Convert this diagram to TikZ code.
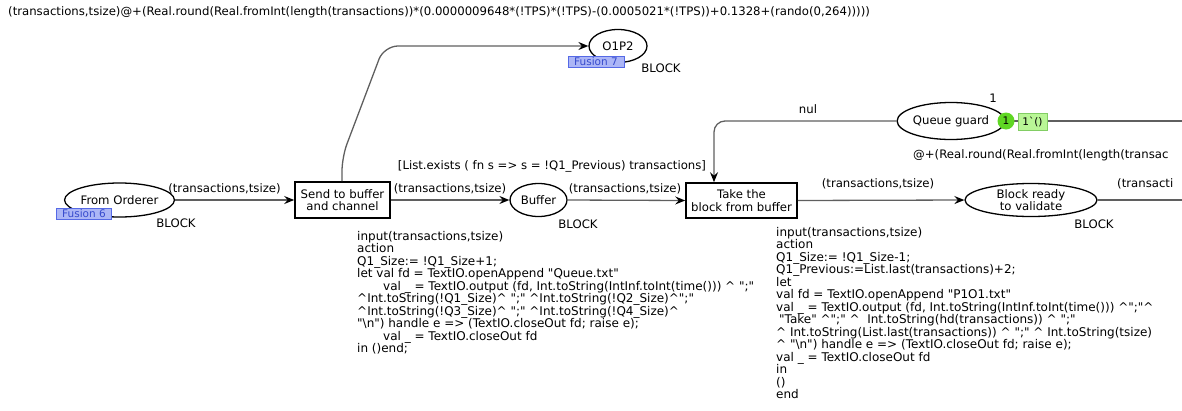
\documentclass[tikz,border=0pt]{standalone}
\usepackage{fontspec}
\newfontfamily\dv{DejaVu Sans}
\usetikzlibrary{shapes.geometric,arrows.meta}
\definecolor{arcgray}{RGB}{95,95,95}
\definecolor{fusfill}{RGB}{172,182,246}
\definecolor{fusdraw}{RGB}{85,105,230}
\definecolor{fustext}{RGB}{55,75,205}
\definecolor{tokgreen}{RGB}{95,215,35}
\definecolor{markfill}{RGB}{185,246,150}
\definecolor{markdraw}{RGB}{130,205,100}
\begin{document}
\begin{tikzpicture}[x=1pt,y=-1pt,
  lbl/.style={font=\dv\fontsize{11.7}{13}\selectfont, inner sep=0pt},
  place/.style={ellipse, draw=black, line width=1.3pt, inner sep=0pt, align=center, font=\dv\fontsize{11.7}{12.5}\selectfont},
  trans/.style={rectangle, draw=black, line width=1.6pt, inner sep=0pt, align=center, font=\dv\fontsize{11.7}{12.5}\selectfont},
  arcline/.style={draw=arcgray, line width=1.3pt},
  arc/.style={arcline, -{Stealth[length=10pt,width=8pt,inset=3.5pt,color=black]}},
  fusion/.style={rectangle, fill=fusfill, draw=fusdraw, line width=0.8pt, text=fustext, inner sep=0pt, font=\dv\fontsize{10.5}{11}\selectfont},
  code/.style={font=\dv\fontsize{12}{12.5}\selectfont, align=left, anchor=north west, inner sep=0pt}
]
\useasboundingbox (0,0) rectangle (1182,410);
\clip (0,0) rectangle (1182,410);

% top expression
\node[lbl, anchor=west] (top) at (8,12) {(transactions,tsize)@+(Real.round(Real.fromInt(length(transactions))*(0.0000009648*(!TPS)*(!TPS)-(0.0005021*(!TPS))+0.1328+(rando(0,264)))))};

% places and transitions
\node[place, minimum width=96pt, minimum height=34pt] (fo) at (119.5,200) {From Orderer};
\node[trans, minimum width=95pt, minimum height=36pt] (send) at (342.5,200) {Send to buffer\\and channel};
\node[place, minimum width=57pt, minimum height=33pt] (buf) at (538.5,200) {Buffer};
\node[trans, minimum width=111pt, minimum height=35pt] (take) at (741.5,200.5) {Take the\\block from buffer};
\node[place, minimum width=132pt, minimum height=33pt] (br) at (1031,200) {Block ready\\to validate};
\node[place, minimum width=58pt, minimum height=33pt] (o1p2) at (618,46) {O1P2};
\node[place, minimum width=100pt, minimum height=37pt] (qg) at (951,121) {Queue guard};

% fusion tags
\node[fusion, minimum width=55pt, minimum height=11pt] (f6) at (84,213.5) {Fusion 6};
\node[fusion, minimum width=56pt, minimum height=11pt] (f7) at (596,62) {Fusion 7};

% colour set labels
\node[lbl] (b1) at (176,223) {BLOCK};
\node[lbl] (b2) at (578,224) {BLOCK};
\node[lbl] (b3) at (661,68) {BLOCK};
\node[lbl] (b4) at (1094,224) {BLOCK};

% connectors
\coordinate (k1) at (342,157);
\coordinate (k2) at (384,46);
\coordinate (c1) at (714,121);
\coordinate (qe) at (1182,121);
\coordinate (be) at (1182,200);
\draw[arc] (fo.east) -- (send.west);
\draw[arc] (send.east) -- (buf.west);
\draw[arc] (buf.east) -- (take.west);
\draw[arc] (take.east) -- (br.west);
\draw[arc, rounded corners=14pt] (send.north -| k1) -- (k1) -- (k2) -- (o1p2.west);
\draw[arc, rounded corners=11pt] (qg.west) -- (c1) -- (c1 |- take.north);
\draw[arcline] (qg.east) -- (qe);
\draw[arcline] (br.east) -- (be);

% arc labels
\node[lbl] (l1) at (224.5,189) {(transactions,tsize)};
\node[lbl] (l2) at (450,189) {(transactions,tsize)};
\node[lbl] (l3) at (625,189) {(transactions,tsize)};
\node[lbl] (l4) at (878,183.5) {(transactions,tsize)};
\node[lbl, anchor=west] (l5) at (1117,183.5) {(transacti};
\node[lbl] (nul) at (808,109) {nul};
\node[lbl] (guard) at (552,166) {[List.exists ( fn s => s = !Q1\_Previous) transactions]};
\node[lbl, anchor=west] (tq) at (913,155) {@+(Real.round(Real.fromInt(length(transac};

% token and marking
\node[lbl] (cnt) at (993,98) {1};
\node[circle, fill=tokgreen, minimum size=17pt, inner sep=0pt, font=\dv\fontsize{10.5}{11}\selectfont] (tok) at (1006,121) {1};
\node[rectangle, fill=markfill, draw=markdraw, line width=0.6pt, minimum width=29pt, minimum height=17pt, inner sep=0pt, font=\dv\fontsize{10.5}{11}\selectfont] (mk) at (1032.5,121.5) {1`()};

% code segments
\node[code] (code1) at (357,231) {input(transactions,tsize)\\
action\\
Q1\_Size:= !Q1\_Size+1;\\
let val fd = TextIO.openAppend "Queue.txt"\\
\hspace*{26pt}val \_ = TextIO.output (fd, Int.toString(IntInf.toInt(time())) \textasciicircum{} ";"\\
\textasciicircum{}Int.toString(!Q1\_Size)\textasciicircum{} ";" \textasciicircum{}Int.toString(!Q2\_Size)\textasciicircum{}";"\\
\textasciicircum{}Int.toString(!Q3\_Size)\textasciicircum{} ";" \textasciicircum{}Int.toString(!Q4\_Size)\textasciicircum{}\\
"\textbackslash{}n") handle e => (TextIO.closeOut fd; raise e);\\
\hspace*{26pt}val \_ = TextIO.closeOut fd\\
in ()end;};

\node[code] (code2) at (776,227) {input(transactions,tsize)\\
action\\
Q1\_Size:= !Q1\_Size-1;\\
Q1\_Previous:=List.last(transactions)+2;\\
let\\
val fd = TextIO.openAppend "P1O1.txt"\\
val \_ = TextIO.output (fd, Int.toString(IntInf.toInt(time())) \textasciicircum{}";"\textasciicircum{}\\
\hspace*{3pt}"Take" \textasciicircum{}";" \textasciicircum{}\ \ Int.toString(hd(transactions)) \textasciicircum{} ";"\\
\textasciicircum{} Int.toString(List.last(transactions)) \textasciicircum{} ";" \textasciicircum{} Int.toString(tsize)\\
\textasciicircum{} "\textbackslash{}n") handle e => (TextIO.closeOut fd; raise e);\\
val \_ = TextIO.closeOut fd\\
in\\
()\\
end};
\end{tikzpicture}
\end{document}
